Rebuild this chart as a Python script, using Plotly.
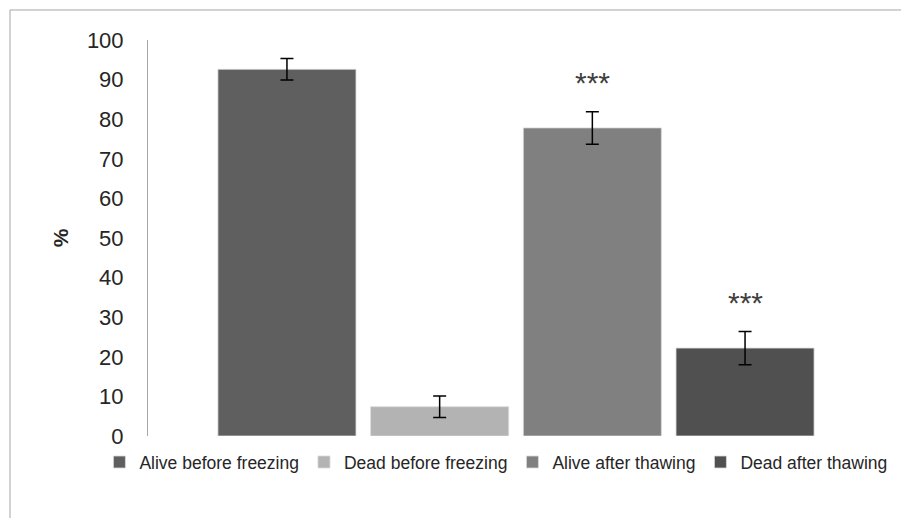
import plotly.graph_objects as go

categories = ["Alive before freezing", "Dead before freezing", "Alive after thawing", "Dead after thawing"]
values = [92.6, 7.4, 77.8, 22.2]
errors = [2.7, 2.7, 4.1, 4.2]
significance = ["", "", "***", "***"]
colors = ["#5f5f5f", "#b3b3b3", "#808080", "#505050"]
y_ticks = list(range(0, 101, 10))

FONT = "Liberation Sans"

fig = go.Figure()
for cat, val, err, col in zip(categories, values, errors, colors):
    fig.add_trace(go.Bar(
        x=[cat], y=[val], name=cat,
        marker=dict(color=col, line=dict(color="#d9d9d9", width=0.8)),
        error_y=dict(type="data", array=[err], visible=True, color="black",
                     thickness=1.5, width=6.5),
    ))

for cat, val, err, sig in zip(categories, values, errors, significance):
    if sig:
        fig.add_annotation(x=cat, y=val + err, text=sig, showarrow=False,
                           yanchor="middle", yshift=29,
                           font=dict(family=FONT, size=30, color="#404040"))

# outer chart border
fig.add_shape(type="rect", xref="paper", yref="paper",
              x0=-0.1875, y0=-1.0, x1=2.0, y1=1.0758,
              line=dict(color="#a6a6a6", width=1), layer="below")

fig.update_layout(
    width=901, height=518,
    margin=dict(l=148, r=17, t=40, b=82),
    paper_bgcolor="white", plot_bgcolor="white",
    barmode="relative", bargap=0.096,
    font=dict(family=FONT, color="#262626"),
    showlegend=True,
    legend=dict(orientation="h", x=-0.066, xanchor="left", y=-0.066, yanchor="middle",
                font=dict(family=FONT, size=17.5, color="#262626"),
                traceorder="normal", itemwidth=30, tracegroupgap=0),
    xaxis=dict(showticklabels=False, showline=False, showgrid=False, zeroline=False,
               ticks="", range=[-0.91, 3.91]),
    yaxis=dict(range=[0, 100], tickvals=y_ticks, ticktext=[str(t) for t in y_ticks],
               showgrid=False, zeroline=False, showline=True, linecolor="#a6a6a6",
               linewidth=1, ticks="", ticklabelstandoff=19,
               tickfont=dict(family=FONT, size=22, color="#262626"),
               title=dict(text="<b>%</b>", standoff=12,
                          font=dict(family=FONT, size=21, color="#262626"))),
)

fig.write_html(
    "out.html",
    config={"displayModeBar": False},
    post_script=["document.body.style.margin='0';document.body.style.overflow='hidden';"],
)
